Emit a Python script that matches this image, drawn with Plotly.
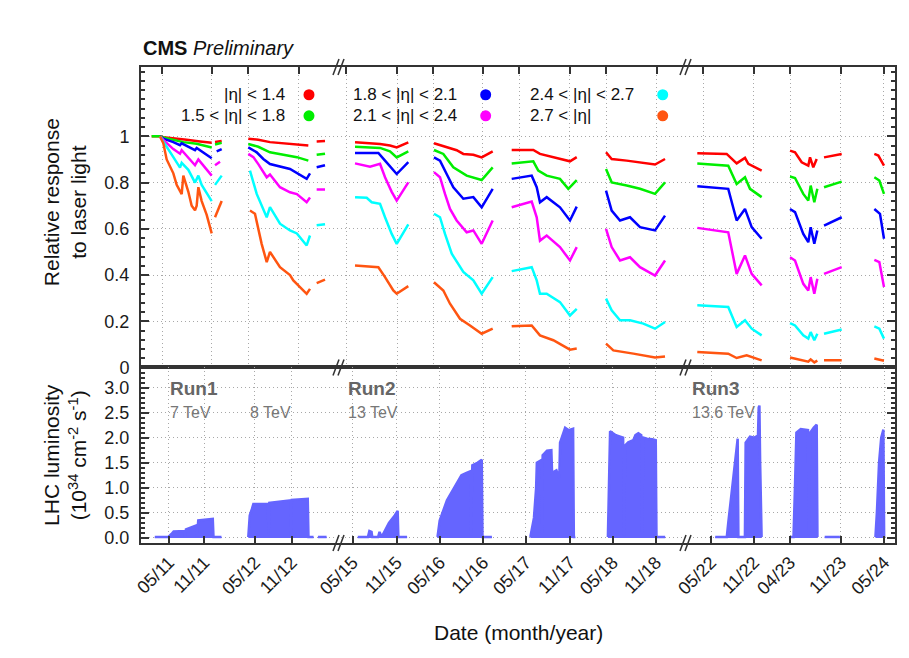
import plotly.graph_objects as go

# ---------------- axis description (compressed time axis, unit = month) ----------------
top_tick_vals = [2.90, 9.79, 14.76, 21.79, 28.28, 35.31, 40.28, 47.17, 52.14, 59.17,
                 64.14, 71.17, 77.52, 84.55, 89.52, 96.55, 102.48]
bottom_tick_vals = [3.86, 8.73, 15.72, 20.79, 29.20, 35.27, 41.24, 47.21, 53.10, 59.17,
                    65.06, 71.03, 78.62, 84.55, 89.52, 96.55, 102.52]
tick_labels = ["05/11", "11/11", "05/12", "11/12", "05/15", "11/15", "05/16", "11/16",
               "05/17", "11/17", "05/18", "11/18", "05/22", "11/22", "04/23", "11/23", "05/24"]
break_positions = [27.45, 75.31]

# ---------------- relative response to laser light ----------------
red_x = [1.47, 2.62, 3.08, 4.46, 6.30, 8.14, 9.75, None, 10.21, 11.13, None,
         14.80, 16.18, 17.79, 20.55, 23.08, None, 24.23, 25.38, None,
         29.52, 32.97, 34.34, 35.27, 36.87, None,
         40.41, 42.16, 43.54, 44.46, 45.84, 46.99, 48.51, None,
         51.13, 54.11, 55.03, 56.87, 59.17, 60.10, None,
         64.14, 64.92, 66.99, 68.83, 70.90, 72.28, None,
         76.73, 80.78, 82.16, 83.31, 83.77, 85.61, None,
         89.52, 90.21, 91.13, 92.04, 92.28, 92.73, 93.20, None, 94.21, 96.65, None,
         101.15, 101.70, 102.48]
red_y = [1.0, 1.0, 0.996, 0.99, 0.985, 0.978, 0.972, None, 0.976, 0.98, None,
         0.99, 0.985, 0.975, 0.967, 0.96, None, 0.978, 0.98, None,
         0.974, 0.967, 0.960, 0.952, 0.974, None,
         0.970, 0.955, 0.94, 0.924, 0.92, 0.909, 0.935, None,
         0.941, 0.941, 0.924, 0.909, 0.892, 0.91, None,
         0.931, 0.902, 0.895, 0.888, 0.878, 0.902, None,
         0.927, 0.924, 0.883, 0.907, 0.881, 0.852, None,
         0.938, 0.931, 0.888, 0.873, 0.909, 0.866, 0.902, None, 0.909, 0.924, None,
         0.924, 0.917, 0.873]

green_x = [1.47, 2.62, 3.08, 4.46, 5.84, 7.68, 8.37, 9.75, None, 10.21, 11.13, None,
           14.80, 16.18, 17.79, 20.55, 21.5, 23.08, None, 24.23, 25.38, None,
           29.52, 32.97, 34.34, 35.27, 36.87, None,
           40.41, 41.70, 43.08, 44.92, 46.99, 48.51, None,
           51.13, 54.11, 54.80, 55.96, 57.79, 58.94, 60.10, None,
           64.14, 64.92, 66.99, 68.83, 70.90, 72.28, None,
           76.73, 81.0, 82.16, 83.31, 84.0, 85.61, None,
           89.52, 90.21, 91.35, 92.04, 92.37, 92.87, 93.29, None, 94.21, 96.65, None,
           101.15, 101.84, 102.48]
green_y = [1.0, 1.0, 0.995, 0.985, 0.975, 0.968, 0.962, 0.952, None, 0.965, 0.972, None,
           0.967, 0.955, 0.931, 0.915, 0.91, 0.895, None, 0.92, 0.925, None,
           0.955, 0.950, 0.935, 0.909, 0.935, None,
           0.941, 0.924, 0.866, 0.830, 0.811, 0.866, None,
           0.883, 0.892, 0.852, 0.830, 0.816, 0.773, 0.811, None,
           0.859, 0.801, 0.787, 0.773, 0.751, 0.801, None,
           0.883, 0.873, 0.794, 0.823, 0.773, 0.737, None,
           0.826, 0.820, 0.751, 0.722, 0.787, 0.715, 0.773, None, 0.78, 0.804, None,
           0.823, 0.809, 0.751]

blue_x = [2.62, 3.08, 4.46, 5.38, 5.61, 7.45, 7.68, 9.75, None, 10.44, 11.13, None,
          14.80, 15.96, 16.87, 17.79, 20.55, 22.85, 23.31, None, 24.23, 25.38, None,
          29.52, 32.74, 33.66, 34.58, 35.27, 36.87, None,
          40.41, 41.24, 42.16, 43.08, 44.46, 45.84, 46.99, 48.51, None,
          51.13, 53.89, 54.58, 55.03, 55.96, 57.79, 59.17, 60.10, None,
          64.14, 64.92, 66.07, 67.45, 68.83, 70.90, 72.28, None,
          76.73, 81.0, 82.16, 83.31, 84.23, 85.61, None,
          89.52, 90.21, 91.35, 92.04, 92.37, 92.87, 93.29, None, 94.21, 96.65, None,
          101.15, 101.93, 102.48]
blue_y = [1.0, 0.99, 0.975, 0.962, 0.97, 0.94, 0.95, 0.905, None, 0.935, 0.945, None,
          0.952, 0.931, 0.902, 0.88, 0.859, 0.816, 0.84, None, 0.866, 0.875, None,
          0.928, 0.928, 0.895, 0.86, 0.837, 0.888, None,
          0.909, 0.895, 0.837, 0.780, 0.730, 0.737, 0.693, 0.773, None,
          0.816, 0.830, 0.780, 0.715, 0.737, 0.693, 0.636, 0.696, None,
          0.765, 0.679, 0.636, 0.650, 0.607, 0.593, 0.657, None,
          0.784, 0.773, 0.636, 0.686, 0.607, 0.557, None,
          0.686, 0.672, 0.578, 0.542, 0.607, 0.535, 0.593, None, 0.614, 0.650, None,
          0.686, 0.665, 0.557]

magenta_x = [2.62, 3.08, 4.46, 5.38, 5.61, 7.45, 7.91, 9.75, None, 10.21, 10.90, None,
             14.80, 15.5, 16.18, 17.34, 17.79, 19.17, 20.55, 21.5, 22.85, 23.31, None, 24.23, 25.38, None,
             29.52, 31.59, 32.97, 33.66, 34.58, 35.27, 36.87, None,
             40.41, 41.24, 41.93, 42.62, 43.54, 44.92, 45.84, 46.99, 48.51, None,
             51.13, 53.89, 54.58, 55.03, 55.96, 57.79, 59.17, 60.10, None,
             64.14, 64.92, 66.07, 67.45, 68.83, 70.90, 72.28, None,
             76.73, 81.0, 82.16, 83.31, 84.23, 85.61, None,
             89.52, 90.21, 91.35, 92.04, 92.37, 92.87, 93.29, None, 94.21, 96.65, None,
             101.15, 101.84, 102.48]
magenta_y = [1.0, 0.985, 0.945, 0.925, 0.94, 0.875, 0.9, 0.83, None, 0.875, 0.89, None,
             0.924, 0.91, 0.88, 0.823, 0.835, 0.78, 0.758, 0.75, 0.715, 0.735, None, 0.77, 0.77, None,
             0.883, 0.869, 0.881, 0.823, 0.76, 0.722, 0.801, None,
             0.845, 0.823, 0.751, 0.686, 0.636, 0.585, 0.593, 0.535, 0.636, None,
             0.693, 0.718, 0.650, 0.549, 0.571, 0.521, 0.463, 0.521, None,
             0.60, 0.521, 0.463, 0.477, 0.434, 0.398, 0.463, None,
             0.604, 0.585, 0.405, 0.485, 0.405, 0.355, None,
             0.477, 0.463, 0.362, 0.333, 0.391, 0.319, 0.384, None, 0.405, 0.434, None,
             0.466, 0.456, 0.348]

cyan_x = [2.62, 3.08, 3.54, 4.46, 5.38, 5.61, 6.53, 7.45, 7.91, 8.37, 9.75, None, 10.21, 11.13, None,
          15.03, 15.96, 17.34, 17.79, 19.17, 20.55, 21.5, 22.85, 23.31, None, 24.23, 25.38, None,
          29.52, 31.13, 31.82, 32.97, 33.66, 34.58, 35.27, 36.87, None,
          40.41, 41.24, 41.93, 42.86, 44.46, 45.84, 46.99, 48.51, None,
          51.13, 53.89, 54.58, 55.03, 55.96, 57.79, 59.17, 60.10, None,
          64.14, 64.92, 66.07, 67.45, 69.29, 70.90, 72.28, None,
          76.73, 81.0, 82.16, 83.31, 84.23, 85.61, None,
          89.52, 90.21, 91.35, 92.04, 92.37, 92.87, 93.29, None, 94.21, 96.65, None,
          101.15, 101.84, 102.48]
cyan_y = [1.0, 0.975, 0.955, 0.91, 0.865, 0.885, 0.855, 0.80, 0.83, 0.79, 0.72, None, 0.79, 0.83, None,
          0.852, 0.751, 0.65, 0.694, 0.622, 0.593, 0.58, 0.528, 0.571, None, 0.615, 0.62, None,
          0.737, 0.734, 0.715, 0.708, 0.650, 0.578, 0.535, 0.619, None,
          0.665, 0.650, 0.578, 0.492, 0.413, 0.377, 0.319, 0.391, None,
          0.417, 0.434, 0.377, 0.319, 0.319, 0.283, 0.225, 0.254, None,
          0.298, 0.247, 0.204, 0.204, 0.190, 0.168, 0.197, None,
          0.269, 0.262, 0.175, 0.204, 0.168, 0.139, None,
          0.192, 0.182, 0.139, 0.125, 0.153, 0.118, 0.146, None, 0.146, 0.164, None,
          0.178, 0.168, 0.125]

orange_x = [2.62, 3.08, 3.54, 4.46, 4.92, 5.61, 5.84, 6.53, 6.99, 7.45, 7.68, 7.91, 8.37, 9.06, 9.75, None, 10.21, 11.13, None,
            15.03, 15.72, 16.64, 17.34, 17.79, 19.17, 20.55, 21.01, 22.85, 23.31, None, 24.23, 25.38, None,
            29.52, 32.05, 32.74, 33.66, 34.80, 35.27, 36.87, None,
            40.41, 41.70, 42.62, 44.0, 45.38, 46.99, 48.51, None,
            51.13, 53.89, 55.03, 56.87, 59.17, 60.10, None,
            64.14, 65.15, 67.91, 70.90, 72.28, None,
            76.73, 81.0, 82.16, 83.54, 85.61, None,
            89.52, 92.04, 92.37, 92.87, 93.29, None, 94.21, 96.65, None,
            101.15, 102.48]
orange_y = [1.0, 0.97, 0.90, 0.84, 0.79, 0.75, 0.83, 0.76, 0.70, 0.68, 0.70, 0.78, 0.72, 0.66, 0.58, None, 0.65, 0.72, None,
            0.679, 0.665, 0.535, 0.456, 0.50, 0.434, 0.40, 0.377, 0.319, 0.34, None, 0.365, 0.38, None,
            0.441, 0.437, 0.434, 0.391, 0.333, 0.319, 0.352, None,
            0.369, 0.333, 0.276, 0.211, 0.182, 0.146, 0.168, None,
            0.178, 0.182, 0.139, 0.118, 0.077, 0.082, None,
            0.103, 0.074, 0.060, 0.043, 0.048, None,
            0.067, 0.060, 0.041, 0.053, 0.031, None,
            0.043, 0.025, 0.035, 0.022, 0.030, None, 0.031, 0.031, None,
            0.039, 0.029]

series_names = ["|η| &lt; 1.4", "1.5 &lt; |η| &lt; 1.8", "1.8 &lt; |η| &lt; 2.1",
                "2.1 &lt; |η| &lt; 2.4", "2.4 &lt; |η| &lt; 2.7", "2.7 &lt; |η|"]
series_colors = ["#ff0000", "#00ee00", "#0000ff", "#ff00ff", "#00ffff", "#ff5511"]
series_x = [red_x, green_x, blue_x, magenta_x, cyan_x, orange_x]
series_y = [red_y, green_y, blue_y, magenta_y, cyan_y, orange_y]

# ---------------- LHC luminosity (10^34 cm^-2 s^-1), envelope of the fills ----------------
lum_x = [1.9, 3.8, 4.2, 4.5, 6.0, 6.1, 6.2, 7.6, 7.7, 7.9, 9.9, 10.0, 11.1, None,
         14.8, 15.0, 15.3, 15.5, 17.5, 17.6, 17.7, 20.6, 20.7, 20.8, 23.0, 23.1, 23.8, None, 24.4, 25.6, None,
         29.9, 30.9, 31.3, 31.5, 31.8, 31.9, 32.7, 32.9, 33.2, 33.4, 34.2, 35.0, 35.4, 35.5, 36.7, None,
         40.9, 41.2, 42.2, 43.0, 44.2, 44.9, 45.4, 45.5, 45.7, 46.4, 47.0, 47.1, 48.4, None,
         53.7, 54.2, 54.5, 54.6, 55.2, 55.3, 55.4, 56.0, 56.6, 56.7, 57.3, 57.7, 57.8, 58.5, 59.0, 59.6, 59.7, 59.9, None,
         64.4, 64.6, 64.7, 65.5, 66.5, 66.6, 66.8, 67.2, 67.9, 68.2, 68.6, 69.0, 69.1, 69.3, 69.8, 70.5, 71.0, 71.1, 72.3, None,
         79.2, 80.8, 81.0, 81.5, 82.0, 82.3, 82.4, 83.3, 83.4, 84.0, 84.6, 85.1, 85.2, 85.3, 85.4, 85.6, None,
         89.5, 90.0, 90.2, 90.4, 91.0, 92.0, 92.1, 92.3, 92.8, 93.2, 93.3, None, 94.3, 96.4, None,
         101.3, 101.5, 101.8, 102.1, 102.4, 102.5]
lum_y = [0.02, 0.02, 0.08, 0.13, 0.14, 0.03, 0.17, 0.25, 0.03, 0.35, 0.38, 0.02, 0.02, None,
         0.02, 0.45, 0.58, 0.68, 0.68, 0.05, 0.70, 0.75, 0.05, 0.76, 0.78, 0.02, 0.02, None, 0.02, 0.02, None,
         0.02, 0.02, 0.02, 0.14, 0.12, 0.02, 0.02, 0.12, 0.02, 0.08, 0.30, 0.45, 0.54, 0.02, 0.02, None,
         0.02, 0.35, 0.75, 0.95, 1.25, 1.30, 1.33, 0.05, 1.45, 1.50, 1.56, 0.02, 0.02, None,
         0.02, 0.40, 1.00, 1.50, 1.55, 0.10, 1.65, 1.74, 1.75, 1.30, 1.35, 1.20, 1.90, 2.20, 2.15, 2.18, 0.02, 0.02, None,
         0.02, 1.50, 2.13, 2.05, 2.00, 0.05, 1.85, 1.91, 1.95, 2.05, 2.09, 2.05, 0.10, 2.00, 1.98, 1.97, 1.95, 0.02, 0.02, None,
         0.02, 0.02, 0.30, 1.00, 1.60, 1.98, 0.02, 0.02, 1.90, 2.02, 2.00, 2.04, 2.60, 2.64, 1.50, 0.02, None,
         0.02, 0.02, 1.00, 2.10, 2.17, 2.15, 0.05, 2.10, 2.20, 2.26, 0.02, None, 0.02, 0.02, None,
         0.02, 0.50, 1.50, 2.00, 2.16, 0.02]

run_labels = [("<b>Run1</b>", 3.72, 2.98), ("<b>Run2</b>", 28.28, 2.98), ("<b>Run3</b>", 75.72, 2.98)]
energy_labels = [("7 TeV", 3.72, 2.50), ("8 TeV", 14.76, 2.50), ("13 TeV", 28.28, 2.50), ("13.6 TeV", 75.72, 2.50)]

# legend layout (columns of text + colored dots), in top-panel data coordinates
legend_rows_y = [1.18, 1.089]
legend_cols = [  # (text anchor x, anchor side, dot x)
    (20.14, "right", 23.17),
    (28.97, "left", 47.54),
    (53.38, "left", 71.96),
]

LUM_COLOR = "#6565ff"
FRAME = "#333333"
GRIDC = "#a8a8a8"
FONT = "Liberation Sans, Arial, sans-serif"
Y_SPLIT = 0.3687

fig = go.Figure()

for name, col, xs, ys in zip(series_names, series_colors, series_x, series_y):
    fig.add_trace(go.Scatter(x=xs, y=ys, mode="lines", name=name,
                             line=dict(color=col, width=2.5), connectgaps=False,
                             xaxis="x", yaxis="y", showlegend=False))

# split luminosity into separate fill segments
seg_x, seg_y = [], []
for xv, yv in zip(lum_x + [None], lum_y + [None]):
    if xv is None:
        if seg_x:
            fig.add_trace(go.Scatter(x=seg_x, y=seg_y, mode="lines", fill="tozeroy",
                                     fillcolor=LUM_COLOR, line=dict(color=LUM_COLOR, width=2.5),
                                     xaxis="x2", yaxis="y2", showlegend=False))
        seg_x, seg_y = [], []
    else:
        seg_x.append(xv)
        seg_y.append(yv)

common_axis = dict(showline=True, linecolor=FRAME, linewidth=2, zeroline=False,
                   showgrid=True, gridcolor=GRIDC, gridwidth=1, griddash="1px,3px",
                   tickcolor=FRAME, tickwidth=1.5)

fig.update_layout(
    width=909, height=658,
    margin=dict(l=141, r=14, t=67, b=115),
    paper_bgcolor="white", plot_bgcolor="white",
    font=dict(family=FONT, size=18, color="#1a1a1a"),
    showlegend=False,
    xaxis=dict(domain=[0, 1], range=[0, 104], anchor="y", side="top",
               tickvals=top_tick_vals, showticklabels=False, ticks="inside", ticklen=7,
               mirror=True, **common_axis),
    yaxis=dict(domain=[Y_SPLIT, 1], range=[0, 1.3], anchor="x",
               tickvals=[0, 0.2, 0.4, 0.6, 0.8, 1.0],
               ticktext=["0", "0.2", "0.4", "0.6", "0.8", "1"],
               ticks="inside", ticklen=8, mirror="ticks", ticklabelstandoff=6,
               minor=dict(dtick=0.04, tick0=0, ticks="inside", ticklen=4,
                          tickcolor=FRAME, showgrid=False),
               **common_axis),
    xaxis2=dict(domain=[0, 1], range=[0, 104], anchor="y2",
                tickvals=bottom_tick_vals, ticktext=tick_labels, tickangle=-45,
                ticks="inside", ticklen=7, mirror=True, **common_axis),
    yaxis2=dict(domain=[0, Y_SPLIT], range=[-0.1, 3.4], anchor="x2",
                tickvals=[0, 0.5, 1.0, 1.5, 2.0, 2.5, 3.0],
                ticktext=["0.0", "0.5", "1.0", "1.5", "2.0", "2.5", "3.0"],
                ticks="inside", ticklen=8, mirror="ticks", ticklabelstandoff=6,
                minor=dict(dtick=0.1, tick0=0, ticks="inside", ticklen=4,
                           tickcolor=FRAME, showgrid=False),
                **common_axis),
)

annotations = [
    dict(text="<b>CMS</b> <i>Preliminary</i>", xref="paper", yref="paper", x=0, y=1,
         xanchor="left", yanchor="bottom", yshift=6, showarrow=False,
         font=dict(size=20, color="#111111")),
    dict(text="Relative response<br>to laser light", xref="paper", yref="paper",
         x=0, y=0.716, xshift=-76, xanchor="center", yanchor="middle", textangle=-90,
         showarrow=False, font=dict(size=21, color="#111111")),
    dict(text="LHC luminosity<br>(10<sup>34</sup> cm<sup>-2</sup> s<sup>-1</sup>)",
         xref="paper", yref="paper", x=0, y=0.185, xshift=-76, xanchor="center",
         yanchor="middle", textangle=-90, showarrow=False, font=dict(size=21, color="#111111")),
    dict(text="Date (month/year)", xref="paper", yref="paper", x=0.5, y=-0.189,
         xanchor="center", yanchor="middle", showarrow=False, font=dict(size=21, color="#111111")),
]
for txt, xv, yv in run_labels:
    annotations.append(dict(text=txt, xref="x2", yref="y2", x=xv, y=yv, xanchor="left",
                            yanchor="middle", showarrow=False, font=dict(size=19, color="#666666")))
for txt, xv, yv in energy_labels:
    annotations.append(dict(text=txt, xref="x2", yref="y2", x=xv, y=yv, xanchor="left",
                            yanchor="middle", showarrow=False, font=dict(size=16, color="#777777")))

shapes = []
for i, (name, col) in enumerate(zip(series_names, series_colors)):
    cx, side, dx = legend_cols[i // 2]
    ry = legend_rows_y[i % 2]
    annotations.append(dict(text=name, xref="x", yref="y", x=cx, y=ry, xanchor=side,
                            yanchor="middle", showarrow=False, font=dict(size=17, color="#111111")))
    shapes.append(dict(type="circle", xref="x", yref="y", xsizemode="pixel", ysizemode="pixel",
                       xanchor=dx, yanchor=ry, x0=-5.5, x1=5.5, y0=-5.5, y1=5.5,
                       fillcolor=col, line=dict(width=0)))

# axis-break marks "//"
for bp in break_positions:
    for lvl in [1.0, Y_SPLIT, 0.0]:
        for off in (-4, 1):
            shapes.append(dict(type="line", xref="x", yref="paper", xsizemode="pixel",
                               ysizemode="pixel", xanchor=bp, yanchor=lvl,
                               x0=off - 3, x1=off + 3, y0=-8, y1=8,
                               line=dict(color=FRAME, width=1.5)))

fig.update_layout(annotations=annotations, shapes=shapes)
fig.write_html("out.html", config={"displayModeBar": False},
               post_script="document.body.style.margin='0px';document.body.style.padding='0px';")
